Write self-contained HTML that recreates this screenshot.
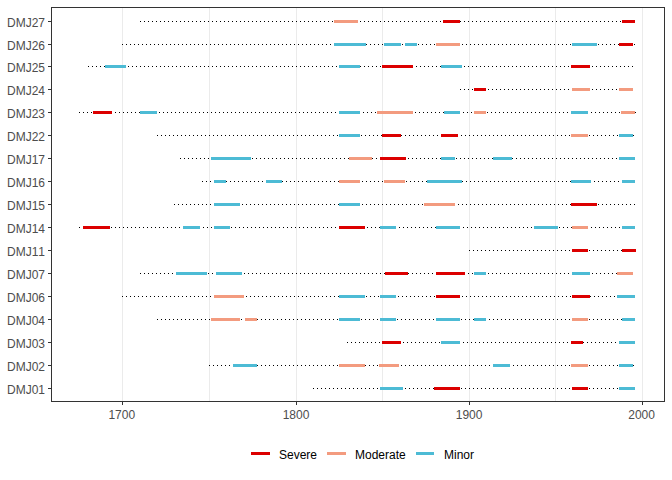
<!DOCTYPE html>
<html><head><meta charset="utf-8"><title>plot</title>
<style>
html,body{margin:0;padding:0;background:#fff;}
body{width:672px;height:480px;position:relative;overflow:hidden;font-family:"Liberation Sans",sans-serif;font-size:12px;font-kerning:none;font-feature-settings:"kern" 0,"liga" 0;}
div{position:absolute;}
.g{top:8px;height:393px;width:1px;background:#ebebeb;}
.d{height:1px;background-image:repeating-linear-gradient(to right,#000 0,#000 1px,transparent 1px,transparent 4px);}
.b{height:3px;}
.r{background:#DC0000;}.s{background:#F39B7F;}.u{background:#4DBBD5;}
.ty{left:48px;width:3px;height:1px;background:#333;}
.tx{top:402px;width:1px;height:3px;background:#333;}
.ly{left:0;width:45px;text-align:right;color:#4d4d4d;height:14px;line-height:14px;white-space:nowrap;}
.lx{width:40px;text-align:center;color:#4d4d4d;height:14px;line-height:14px;top:408px;}
.lg{color:#000;height:14px;line-height:14px;top:448px;white-space:nowrap;}
.k{top:452px;height:3px;}
#p{left:51px;top:7px;width:612px;height:393px;border:1px solid #333;}
</style></head><body>

<div class="g" style="left:122px"></div>
<div class="g" style="left:209px"></div>
<div class="g" style="left:296px"></div>
<div class="g" style="left:382px"></div>
<div class="g" style="left:469px"></div>
<div class="g" style="left:555px"></div>
<div class="g" style="left:642px"></div>
<div class="d" style="left:140px;top:21px;width:495px"></div>
<div class="b s" style="left:334px;top:20px;width:24px"></div>
<div class="b r" style="left:443px;top:20px;width:17px"></div>
<div class="b r" style="left:622px;top:20px;width:13px"></div>
<div class="d" style="left:122px;top:44px;width:513px"></div>
<div class="b u" style="left:334px;top:43px;width:32px"></div>
<div class="b u" style="left:384px;top:43px;width:17px"></div>
<div class="b u" style="left:405px;top:43px;width:12px"></div>
<div class="b s" style="left:436px;top:43px;width:24px"></div>
<div class="b u" style="left:572px;top:43px;width:25px"></div>
<div class="b r" style="left:619px;top:43px;width:14px"></div>
<div class="d" style="left:88px;top:66px;width:545px"></div>
<div class="b u" style="left:105px;top:65px;width:21px"></div>
<div class="b u" style="left:339px;top:65px;width:21px"></div>
<div class="b r" style="left:382px;top:65px;width:31px"></div>
<div class="b u" style="left:441px;top:65px;width:21px"></div>
<div class="b r" style="left:571px;top:65px;width:19px"></div>
<div class="d" style="left:460px;top:89px;width:173px"></div>
<div class="b r" style="left:474px;top:88px;width:12px"></div>
<div class="b s" style="left:572px;top:88px;width:18px"></div>
<div class="b s" style="left:619px;top:88px;width:14px"></div>
<div class="d" style="left:79px;top:112px;width:557px"></div>
<div class="b r" style="left:93px;top:111px;width:19px"></div>
<div class="b u" style="left:140px;top:111px;width:17px"></div>
<div class="b u" style="left:339px;top:111px;width:21px"></div>
<div class="b s" style="left:377px;top:111px;width:36px"></div>
<div class="b u" style="left:444px;top:111px;width:16px"></div>
<div class="b s" style="left:474px;top:111px;width:12px"></div>
<div class="b u" style="left:571px;top:111px;width:17px"></div>
<div class="b s" style="left:621px;top:111px;width:14px"></div>
<div class="d" style="left:157px;top:135px;width:477px"></div>
<div class="b u" style="left:339px;top:134px;width:21px"></div>
<div class="b r" style="left:382px;top:134px;width:19px"></div>
<div class="b r" style="left:441px;top:134px;width:17px"></div>
<div class="b s" style="left:571px;top:134px;width:17px"></div>
<div class="b u" style="left:619px;top:134px;width:14px"></div>
<div class="d" style="left:180px;top:158px;width:455px"></div>
<div class="b u" style="left:211px;top:157px;width:40px"></div>
<div class="b s" style="left:349px;top:157px;width:23px"></div>
<div class="b r" style="left:380px;top:157px;width:26px"></div>
<div class="b u" style="left:441px;top:157px;width:14px"></div>
<div class="b u" style="left:493px;top:157px;width:19px"></div>
<div class="b u" style="left:619px;top:157px;width:16px"></div>
<div class="d" style="left:202px;top:181px;width:433px"></div>
<div class="b u" style="left:214px;top:180px;width:12px"></div>
<div class="b u" style="left:266px;top:180px;width:16px"></div>
<div class="b s" style="left:339px;top:180px;width:21px"></div>
<div class="b s" style="left:384px;top:180px;width:21px"></div>
<div class="b u" style="left:427px;top:180px;width:35px"></div>
<div class="b u" style="left:571px;top:180px;width:20px"></div>
<div class="b u" style="left:622px;top:180px;width:13px"></div>
<div class="d" style="left:174px;top:204px;width:462px"></div>
<div class="b u" style="left:214px;top:203px;width:26px"></div>
<div class="b u" style="left:339px;top:203px;width:21px"></div>
<div class="b s" style="left:424px;top:203px;width:31px"></div>
<div class="b r" style="left:571px;top:203px;width:26px"></div>
<div class="d" style="left:79px;top:227px;width:556px"></div>
<div class="b r" style="left:83px;top:226px;width:27px"></div>
<div class="b u" style="left:183px;top:226px;width:17px"></div>
<div class="b u" style="left:214px;top:226px;width:16px"></div>
<div class="b r" style="left:339px;top:226px;width:26px"></div>
<div class="b u" style="left:380px;top:226px;width:16px"></div>
<div class="b u" style="left:436px;top:226px;width:24px"></div>
<div class="b u" style="left:534px;top:226px;width:24px"></div>
<div class="b s" style="left:572px;top:226px;width:16px"></div>
<div class="b u" style="left:622px;top:226px;width:13px"></div>
<div class="d" style="left:469px;top:250px;width:167px"></div>
<div class="b r" style="left:572px;top:249px;width:16px"></div>
<div class="b r" style="left:622px;top:249px;width:14px"></div>
<div class="d" style="left:140px;top:273px;width:493px"></div>
<div class="b u" style="left:176px;top:272px;width:31px"></div>
<div class="b u" style="left:216px;top:272px;width:26px"></div>
<div class="b r" style="left:385px;top:272px;width:23px"></div>
<div class="b r" style="left:436px;top:272px;width:29px"></div>
<div class="b u" style="left:474px;top:272px;width:12px"></div>
<div class="b u" style="left:572px;top:272px;width:18px"></div>
<div class="b s" style="left:617px;top:272px;width:16px"></div>
<div class="d" style="left:122px;top:296px;width:513px"></div>
<div class="b s" style="left:214px;top:295px;width:30px"></div>
<div class="b u" style="left:339px;top:295px;width:26px"></div>
<div class="b u" style="left:380px;top:295px;width:16px"></div>
<div class="b r" style="left:436px;top:295px;width:24px"></div>
<div class="b r" style="left:572px;top:295px;width:18px"></div>
<div class="b u" style="left:617px;top:295px;width:18px"></div>
<div class="d" style="left:157px;top:319px;width:478px"></div>
<div class="b s" style="left:211px;top:318px;width:29px"></div>
<div class="b s" style="left:245px;top:318px;width:12px"></div>
<div class="b u" style="left:339px;top:318px;width:21px"></div>
<div class="b u" style="left:380px;top:318px;width:16px"></div>
<div class="b u" style="left:436px;top:318px;width:24px"></div>
<div class="b u" style="left:474px;top:318px;width:12px"></div>
<div class="b s" style="left:572px;top:318px;width:16px"></div>
<div class="b u" style="left:622px;top:318px;width:13px"></div>
<div class="d" style="left:347px;top:342px;width:288px"></div>
<div class="b r" style="left:382px;top:341px;width:19px"></div>
<div class="b u" style="left:441px;top:341px;width:19px"></div>
<div class="b r" style="left:571px;top:341px;width:12px"></div>
<div class="b u" style="left:619px;top:341px;width:16px"></div>
<div class="d" style="left:209px;top:365px;width:425px"></div>
<div class="b u" style="left:233px;top:364px;width:24px"></div>
<div class="b s" style="left:339px;top:364px;width:26px"></div>
<div class="b s" style="left:379px;top:364px;width:20px"></div>
<div class="b u" style="left:493px;top:364px;width:17px"></div>
<div class="b s" style="left:571px;top:364px;width:17px"></div>
<div class="b u" style="left:619px;top:364px;width:14px"></div>
<div class="d" style="left:313px;top:388px;width:322px"></div>
<div class="b u" style="left:380px;top:387px;width:23px"></div>
<div class="b r" style="left:434px;top:387px;width:26px"></div>
<div class="b r" style="left:572px;top:387px;width:16px"></div>
<div class="b u" style="left:619px;top:387px;width:16px"></div>
<div id="p"></div>
<div class="ty" style="top:21px"></div>
<div class="ly" style="top:16px">DMJ27</div>
<div class="ty" style="top:44px"></div>
<div class="ly" style="top:39px">DMJ26</div>
<div class="ty" style="top:66px"></div>
<div class="ly" style="top:61px">DMJ25</div>
<div class="ty" style="top:89px"></div>
<div class="ly" style="top:84px">DMJ24</div>
<div class="ty" style="top:112px"></div>
<div class="ly" style="top:107px">DMJ23</div>
<div class="ty" style="top:135px"></div>
<div class="ly" style="top:130px">DMJ22</div>
<div class="ty" style="top:158px"></div>
<div class="ly" style="top:153px">DMJ17</div>
<div class="ty" style="top:181px"></div>
<div class="ly" style="top:176px">DMJ16</div>
<div class="ty" style="top:204px"></div>
<div class="ly" style="top:199px">DMJ15</div>
<div class="ty" style="top:227px"></div>
<div class="ly" style="top:222px">DMJ14</div>
<div class="ty" style="top:250px"></div>
<div class="ly" style="top:245px">DMJ11</div>
<div class="ty" style="top:273px"></div>
<div class="ly" style="top:268px">DMJ07</div>
<div class="ty" style="top:296px"></div>
<div class="ly" style="top:291px">DMJ06</div>
<div class="ty" style="top:319px"></div>
<div class="ly" style="top:314px">DMJ04</div>
<div class="ty" style="top:342px"></div>
<div class="ly" style="top:337px">DMJ03</div>
<div class="ty" style="top:365px"></div>
<div class="ly" style="top:360px">DMJ02</div>
<div class="ty" style="top:388px"></div>
<div class="ly" style="top:383px">DMJ01</div>
<div class="tx" style="left:122px"></div>
<div class="lx" style="left:101.75px">1700</div>
<div class="tx" style="left:296px"></div>
<div class="lx" style="left:276px">1800</div>
<div class="tx" style="left:469px"></div>
<div class="lx" style="left:449.1px">1900</div>
<div class="tx" style="left:642px"></div>
<div class="lx" style="left:621.6px">2000</div>
<div class="k r" style="left:251px;width:19px"></div><div class="lg" style="left:279px">Severe</div>
<div class="k s" style="left:327px;width:19px"></div><div class="lg" style="left:355px">Moderate</div>
<div class="k u" style="left:416px;width:18px"></div><div class="lg" style="left:444px">Minor</div>
</body></html>
